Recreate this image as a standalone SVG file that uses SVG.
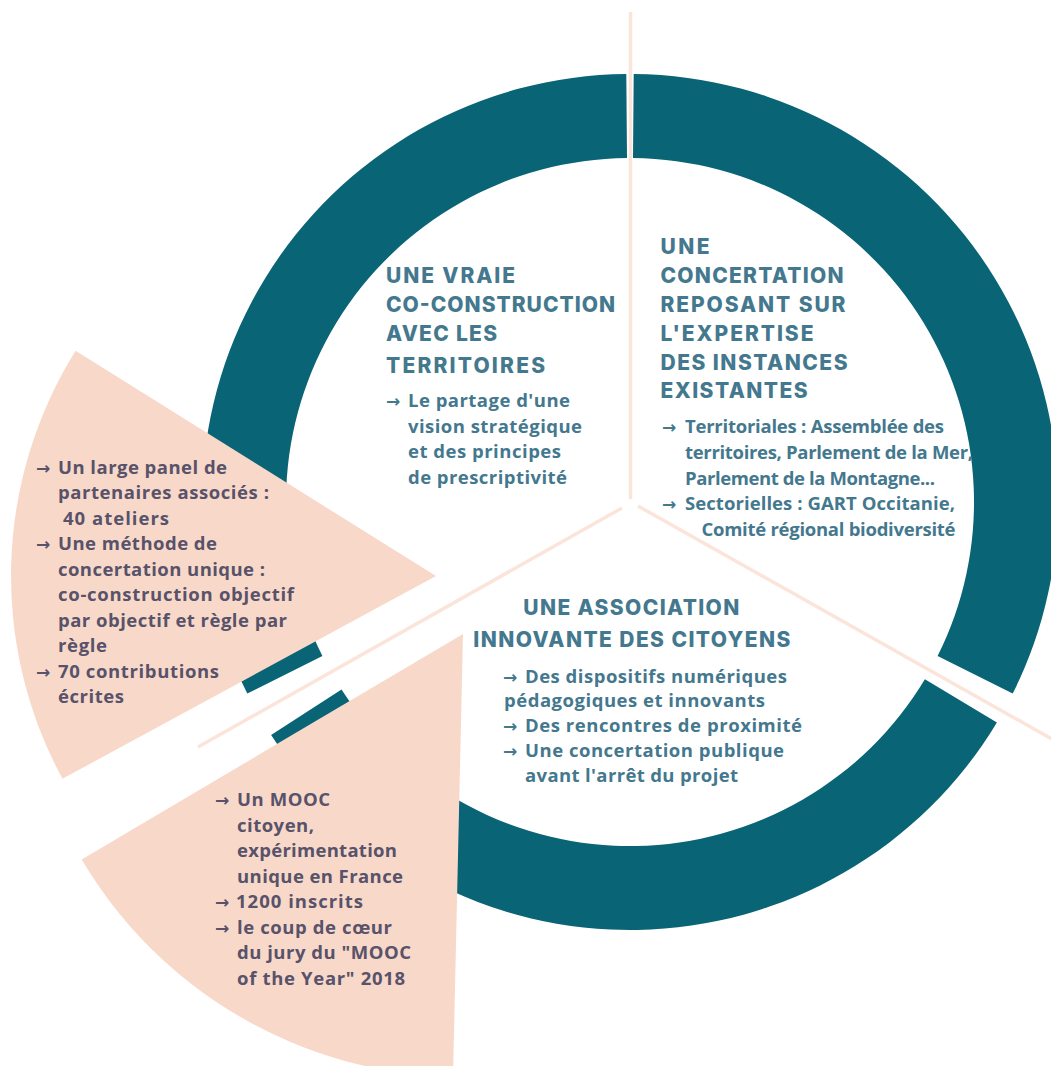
<svg xmlns="http://www.w3.org/2000/svg" width="1051" height="1066" viewBox="0 0 1051 1066">
<style>
.ring{fill:#096475}
.wedge{fill:#f8d9c9}
.div{stroke:#fbe5da;stroke-width:3.5;fill:none}
text{font-family:"Open Sans","Liberation Sans",sans-serif}
.h{font-family:Inter,"Open Sans",sans-serif;font-weight:800;font-size:21px;fill:#44788e}
.b{font-weight:700;font-size:18.5px;fill:#44788e}
.w{font-weight:700;font-size:18.5px;fill:#58526a}
.a{font-family:"DejaVu Sans",sans-serif;font-weight:700;font-size:17px}
.ab{fill:#44788e}
.aw{fill:#58526a}
</style>
<rect width="1051" height="1066" fill="#ffffff"/>
<g id="ring">
<path class="ring" d="M 633.7 74.0 A 428 428 0 0 1 1012.7 693.6 L 937.6 656.0 A 344 344 0 0 0 633.0 158.0 Z"/>
<path class="ring" d="M 996.9 722.4 A 428 428 0 0 1 271.1 735.1 L 341.5 689.4 A 344 344 0 0 0 924.9 679.2 Z"/>
<path class="ring" d="M 247.3 693.6 A 428 428 0 0 1 626.3 74.0 L 627.0 158.0 A 344 344 0 0 0 322.4 656.0 Z"/>
</g>
<g id="wedge-left">
<path class="wedge" d="M 436 576 L 62.5 778.8 A 425 425 0 0 1 75.6 350.8 Z"/>
<text class="a aw" x="36" y="474">→</text>
<text class="w" x="58" y="474" textLength="169">Un large panel de</text>
<text class="w" x="58" y="499" textLength="211">partenaires associés :</text>
<text class="w" x="63" y="524.5" textLength="106">40 ateliers</text>
<text class="a aw" x="36" y="550">→</text>
<text class="w" x="58" y="550" textLength="159">Une méthode de</text>
<text class="w" x="58" y="575.5" textLength="207">concertation unique :</text>
<text class="w" x="58" y="601" textLength="236">co-construction objectif</text>
<text class="w" x="58" y="626.5" textLength="229">par objectif et règle par</text>
<text class="w" x="58" y="652" textLength="49">règle</text>
<text class="a aw" x="36" y="677.5">→</text>
<text class="w" x="58" y="677.5" textLength="161">70 contributions</text>
<text class="w" x="58" y="703" textLength="66">écrites</text>
</g>
<g id="wedge-bottom">
<path class="wedge" d="M 463 634 L 453 1076.9 A 443 443 0 0 1 81.7 859.5 Z"/>
<text class="a aw" x="215" y="806">→</text>
<text class="w" x="237" y="806" textLength="93">Un MOOC</text>
<text class="w" x="237" y="831.5" textLength="77">citoyen,</text>
<text class="w" x="237" y="857" textLength="160">expérimentation</text>
<text class="w" x="237" y="882.5" textLength="166">unique en France</text>
<text class="a aw" x="215" y="908">→</text>
<text class="w" x="236" y="908" textLength="127">1200 inscrits</text>
<text class="a aw" x="215" y="933.5">→</text>
<text class="w" x="237" y="933.5" textLength="155">le coup de cœur</text>
<text class="w" x="237" y="959" textLength="174">du jury du "MOOC</text>
<text class="w" x="237" y="984.5" textLength="168">of the Year" 2018</text>
</g>
<g id="connectors">
<line class="div" x1="630.5" y1="12" x2="630.5" y2="499"/>
<line class="div" x1="622" y1="508" x2="198" y2="747"/>
<line class="div" x1="638" y1="506" x2="1060" y2="743.6"/>
</g>
<g id="node-territoires">
<text class="h" x="386" y="283" textLength="129">UNE VRAIE</text>
<text class="h" x="386" y="312" textLength="229">CO-CONSTRUCTION</text>
<text class="h" x="386" y="341" textLength="111">AVEC LES</text>
<text class="h" x="386" y="373" textLength="159">TERRITOIRES</text>
<text class="a ab" x="386" y="407">→</text>
<text class="b" x="408" y="407" textLength="162">Le partage d'une</text>
<text class="b" x="408" y="432.5" textLength="174">vision stratégique</text>
<text class="b" x="408" y="458" textLength="153">et des principes</text>
<text class="b" x="408" y="483.5" textLength="159">de prescriptivité</text>
</g>
<g id="node-instances">
<text class="h" x="660.5" y="254" textLength="49">UNE</text>
<text class="h" x="660.5" y="283" textLength="183">CONCERTATION</text>
<text class="h" x="660.5" y="312" textLength="185">REPOSANT SUR</text>
<text class="h" x="660.5" y="341" textLength="153">L'EXPERTISE</text>
<text class="h" x="660.5" y="369.5" textLength="187">DES INSTANCES</text>
<text class="h" x="660.5" y="398" textLength="147">EXISTANTES</text>
<text class="a ab" x="662" y="433">→</text>
<text class="b" x="685" y="433" textLength="259">Territoriales : Assemblée des</text>
<text class="b" x="685" y="459" textLength="288">territoires, Parlement de la Mer,</text>
<text class="b" x="685" y="484.5" textLength="250">Parlement de la Montagne...</text>
<text class="a ab" x="662" y="510">→</text>
<text class="b" x="685" y="510" textLength="270">Sectorielles : GART Occitanie,</text>
<text class="b" x="701.5" y="535.5" textLength="254">Comité régional biodiversité</text>
</g>
<g id="node-citoyens">
<text class="h" x="523.3" y="615" textLength="216">UNE ASSOCIATION</text>
<text class="h" x="473.3" y="647" textLength="317">INNOVANTE DES CITOYENS</text>
<text class="a ab" x="503" y="682.5">→</text>
<text class="b" x="525" y="682.5" textLength="262">Des dispositifs numériques</text>
<text class="b" x="504" y="707" textLength="261">pédagogiques et innovants</text>
<text class="a ab" x="503" y="732">→</text>
<text class="b" x="525" y="732" textLength="277">Des rencontres de proximité</text>
<text class="a ab" x="503" y="757">→</text>
<text class="b" x="525" y="757" textLength="259">Une concertation publique</text>
<text class="b" x="525" y="782" textLength="213">avant l'arrêt du projet</text>
</g>
</svg>
